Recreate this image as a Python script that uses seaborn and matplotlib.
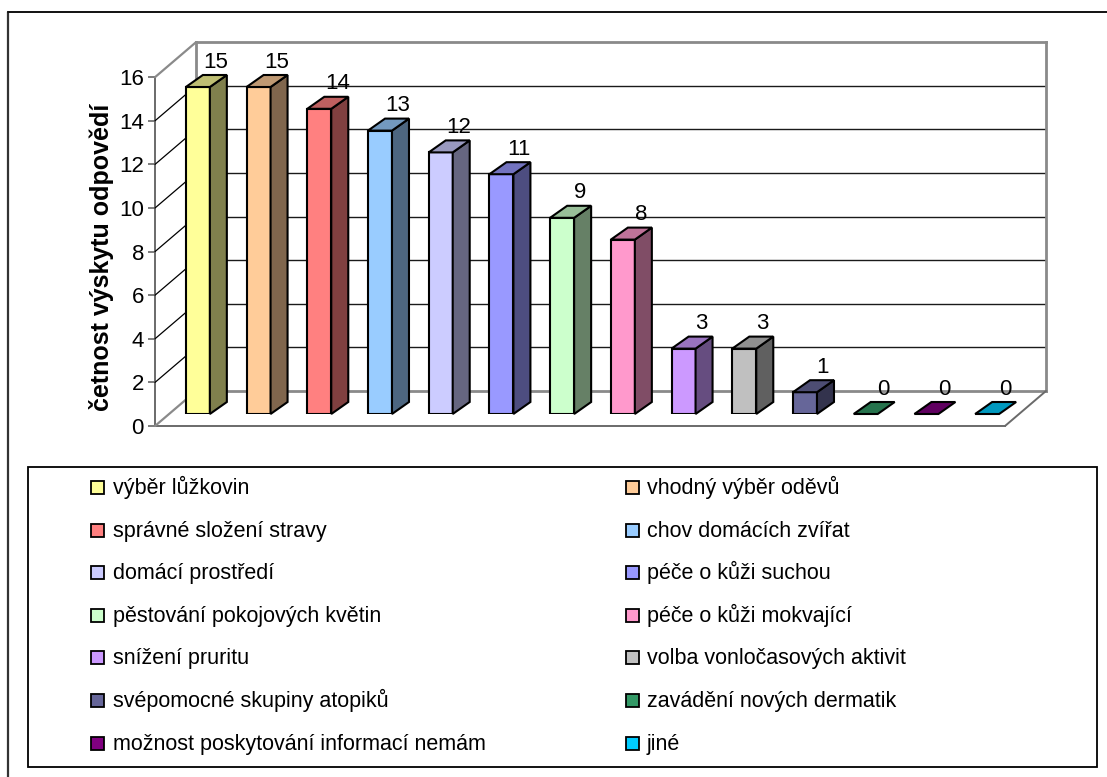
import matplotlib
matplotlib.use("Agg")
import matplotlib.pyplot as plt
import matplotlib.colors as mcolors
from matplotlib.patches import Polygon, Rectangle
from matplotlib.lines import Line2D
import seaborn as sns

# ---- data -------------------------------------------------------------
categories = [
    "výběr lůžkovin",
    "vhodný výběr oděvů",
    "správné složení stravy",
    "chov domácích zvířat",
    "domácí prostředí",
    "péče o kůži suchou",
    "pěstování pokojových květin",
    "péče o kůži mokvající",
    "snížení pruritu",
    "volba vonločasových aktivit",
    "svépomocné skupiny atopiků",
    "zavádění nových dermatik",
    "možnost poskytování informací nemám",
    "jiné",
]
values = [15, 15, 14, 13, 12, 11, 9, 8, 3, 3, 1, 0, 0, 0]
colors = [
    "#FFFF99", "#FFCC99", "#FF8080", "#99CCFF", "#CCCCFF", "#9999FF", "#CCFFCC",
    "#FF99CC", "#CC99FF", "#C0C0C0", "#666699", "#339966", "#800080", "#00CCFF",
]
y_ticks = [0, 2, 4, 6, 8, 10, 12, 14, 16]
y_label = "četnost výskytu odpovědí"

# ---- style ------------------------------------------------------------
sns.set_theme(style="white")
plt.rcParams["font.family"] = ["Liberation Sans", "DejaVu Sans"]

W, H, DPI = 1107, 777, 100
fig = plt.figure(figsize=(W / DPI, H / DPI), dpi=DPI)
fig.patch.set_facecolor("white")


def px_rect(x0, y_top, x1, y_bottom):
    """Pixel box (origin top-left) -> figure-fraction rect."""
    return [x0 / W, 1 - y_bottom / H, (x1 - x0) / W, (y_bottom - y_top) / H]


def fx(x):
    return x / W


def fy(y):
    return 1 - y / H


# geometry of the pseudo-3D box (pixels)
n = len(categories)
PLANE_X0, PLANE_X1 = 167.5, 1017.5          # plane of the bar fronts
PLANE_Y0 = 414.0                             # value 0 on bar plane
PX_PER_UNIT = 21.8
PLANE_Y1 = PLANE_Y0 - y_ticks[-1] * PX_PER_UNIT
FRONT = (-12.5, -12.0)                       # floor front edge rel. to bar plane (dx, dy_up)
BACK = (28.5, 23.0)                          # back wall rel. to bar plane
DEPTH = (17.0, 12.0)                         # depth of a single bar

sx = (PLANE_X1 - PLANE_X0) / n
sy = PX_PER_UNIT
xlim = (-0.5, n - 0.5)
ylim = (y_ticks[0], y_ticks[-1])

# back wall with gridlines
ax_back = fig.add_axes(px_rect(PLANE_X0 + BACK[0], PLANE_Y1 - BACK[1],
                               PLANE_X1 + BACK[0], PLANE_Y0 - BACK[1]))
ax_back.set_xlim(*xlim)
ax_back.set_ylim(*ylim)
ax_back.set_xticks([])
ax_back.set_yticks(y_ticks[1:-1])
ax_back.tick_params(axis="y", length=0, labelleft=False)
ax_back.grid(axis="y", color="#1a1a1a", linewidth=1.0)
for sp in ax_back.spines.values():
    sp.set_color("#8a8a8a")
    sp.set_linewidth(2.0)
ax_back.set_zorder(0)

# front value axis and floor front edge
ax_front = fig.add_axes(px_rect(PLANE_X0 + FRONT[0], PLANE_Y1 - FRONT[1],
                                PLANE_X1 + FRONT[0], PLANE_Y0 - FRONT[1]))
ax_front.set_xlim(*xlim)
ax_front.set_ylim(*ylim)
ax_front.patch.set_alpha(0)
ax_front.set_xticks([])
ax_front.set_yticks(y_ticks)
ax_front.set_yticklabels([str(t) for t in y_ticks])
ax_front.tick_params(axis="y", direction="out", length=5, width=1.2, color="#666666",
                     labelsize=16, labelcolor="black", pad=3, left=True)
for side in ("top", "right"):
    ax_front.spines[side].set_visible(False)
for side in ("left", "bottom"):
    ax_front.spines[side].set_color("#6a6a6a")
    ax_front.spines[side].set_linewidth(1.4)
ax_front.set_ylabel(y_label, fontsize=18, fontweight="bold", color="black")
front_h = PLANE_Y0 - PLANE_Y1
ax_front.yaxis.set_label_coords((114 - (PLANE_X0 + FRONT[0])) / (PLANE_X1 - PLANE_X0),
                                0.5 - 5.4 / front_h)
ax_front.set_zorder(1)

# bars
ax = fig.add_axes(px_rect(PLANE_X0, PLANE_Y1, PLANE_X1, PLANE_Y0))
ax.set_zorder(2)
ax.patch.set_alpha(0)
sns.barplot(x=categories, y=values, hue=categories, palette=colors, legend=False,
            width=0.395, saturation=1, edgecolor="black", linewidth=1.5, ax=ax)
ax.set_xlim(*xlim)
ax.set_ylim(*ylim)
ax.axis("off")


def off(x, y, d):
    return x + d[0] / sx, y + d[1] / sy


# left wall diagonals and right floor edge
for t in y_ticks:
    p0 = off(xlim[0], t, FRONT)
    p1 = off(xlim[0], t, BACK)
    edge = t in (y_ticks[0], y_ticks[-1])
    ax.add_line(Line2D([p0[0], p1[0]], [p0[1], p1[1]],
                       color="#8a8a8a" if edge else "black",
                       lw=1.6 if edge else 0.9, zorder=0.5, clip_on=False))
p0 = off(xlim[1], 0, FRONT)
p1 = off(xlim[1], 0, BACK)
ax.add_line(Line2D([p0[0], p1[0]], [p0[1], p1[1]], color="#6a6a6a", lw=1.4,
                   zorder=0.5, clip_on=False))

# 3D side and top faces, value labels
bars = sorted(ax.patches, key=lambda p: p.get_x())
ddx, ddy = DEPTH[0] / sx, DEPTH[1] / sy
for bar, v in zip(bars, values):
    x0, w, h = bar.get_x(), bar.get_width(), bar.get_height()
    rgb = mcolors.to_rgb(bar.get_facecolor())
    side_c = tuple(c * 0.5 for c in rgb)
    top_c = tuple(c * 0.75 for c in rgb)
    if h > 0:
        ax.add_patch(Polygon([(x0 + w, 0), (x0 + w + ddx, ddy), (x0 + w + ddx, h + ddy),
                              (x0 + w, h)], closed=True, facecolor=side_c,
                             edgecolor="black", lw=1.5, clip_on=False, zorder=1))
    ax.add_patch(Polygon([(x0, h), (x0 + w, h), (x0 + w + ddx, h + ddy), (x0 + ddx, h + ddy)],
                         closed=True, facecolor=top_c, edgecolor="black", lw=1.5,
                         clip_on=False, zorder=1))
    ax.text(x0 + w / 2 + 18 / sx, h + 19.5 / sy, str(v), ha="center", va="baseline",
            fontsize=16, color="black", clip_on=False)

# legend: two columns filled row by row, inside a framed box
LEG_BOX = (28, 467, 1097, 767)
SWATCH_X = (91, 626)
TEXT_X = (113, 647)
ROW0_BASELINE, ROW_STEP, SWATCH = 494.0, 42.6, 13.0
for i, (cat, col) in enumerate(zip(categories, colors)):
    row, c = divmod(i, 2)
    base = ROW0_BASELINE + row * ROW_STEP
    fig.add_artist(Rectangle((fx(SWATCH_X[c]), fy(base)), SWATCH / W, SWATCH / H,
                             transform=fig.transFigure, facecolor=col,
                             edgecolor="black", lw=1.3))
    fig.text(fx(TEXT_X[c]), fy(base), cat, ha="left", va="baseline", fontsize=15.5,
             color="black")
fig.add_artist(Rectangle((fx(LEG_BOX[0]), fy(LEG_BOX[3])), (LEG_BOX[2] - LEG_BOX[0]) / W,
                         (LEG_BOX[3] - LEG_BOX[1]) / H, transform=fig.transFigure,
                         fill=False, edgecolor="black", lw=1.3))

# outer chart border (top and left edges)
fig.add_artist(Line2D([fx(8), fx(8)], [fy(12), 0], transform=fig.transFigure,
                      color="#333333", lw=1.6))
fig.add_artist(Line2D([fx(8), 1], [fy(12), fy(12)], transform=fig.transFigure,
                      color="#111111", lw=1.4))

fig.savefig("out.png", dpi=DPI, facecolor="white")
